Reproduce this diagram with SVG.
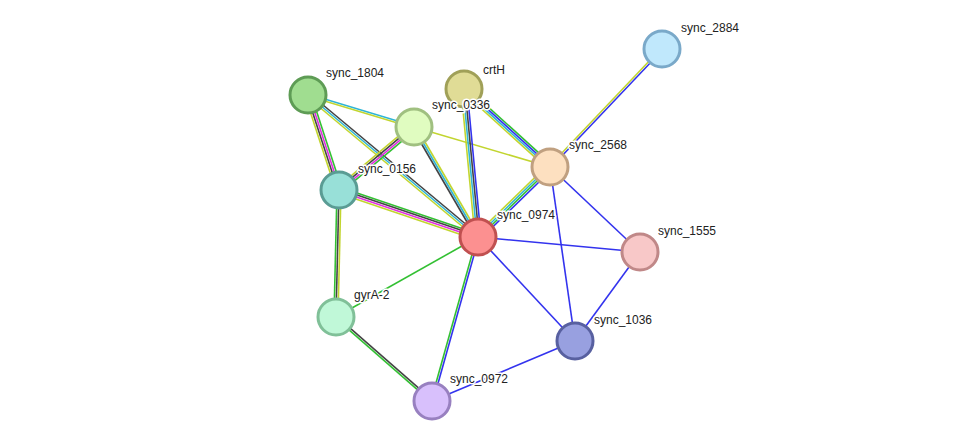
<svg xmlns="http://www.w3.org/2000/svg" width="975" height="446" viewBox="0 0 975 446">
<style>
.e line{stroke-width:1.6;fill:none}
.G{stroke:#33c033}.Y{stroke:#c2d52f}.K{stroke:#444}.C{stroke:#2fb5d5}.M{stroke:#e030e0}.B{stroke:#3333ee}
.n circle{stroke-width:3}
.n text{font-family:"Liberation Sans",Arial,sans-serif;font-size:12px;fill:#222;stroke:#fff;stroke-width:3;paint-order:stroke;stroke-linejoin:round}
</style>
<rect width="975" height="446" fill="#fff"/>
<g id="connectors" class="e">
<line class="C" x1="308" y1="94" x2="414" y2="126"/><line class="Y" x1="308" y1="96" x2="414" y2="128"/>
<line class="G" x1="310.9" y1="94.1" x2="341.9" y2="189.1"/><line class="M" x1="309" y1="94.7" x2="340" y2="189.7"/><line class="K" x1="307" y1="95.3" x2="338" y2="190.3"/><line class="Y" x1="305.1" y1="95.9" x2="336.1" y2="190.9"/>
<line class="K" x1="309.3" y1="93.5" x2="479.3" y2="235.5"/><line class="C" x1="308" y1="95" x2="478" y2="237"/><line class="Y" x1="306.7" y1="96.5" x2="476.7" y2="238.5"/>
<line class="G" x1="415.9" y1="129.3" x2="340.9" y2="192.3"/><line class="M" x1="414.6" y1="127.8" x2="339.6" y2="190.8"/><line class="K" x1="413.4" y1="126.2" x2="338.4" y2="189.2"/><line class="Y" x1="412.1" y1="124.7" x2="337.1" y2="187.7"/>
<line class="Y" x1="415.7" y1="126" x2="479.7" y2="236"/><line class="C" x1="414" y1="127" x2="478" y2="237"/><line class="K" x1="412.3" y1="128" x2="476.3" y2="238"/>
<line class="Y" x1="414" y1="127" x2="550" y2="167"/>
<line class="B" x1="467" y1="89" x2="481" y2="237"/><line class="K" x1="465" y1="89" x2="479" y2="237"/><line class="C" x1="463" y1="89" x2="477" y2="237"/><line class="Y" x1="461" y1="89" x2="475" y2="237"/>
<line class="G" x1="466" y1="86.8" x2="552" y2="164.8"/><line class="B" x1="464.7" y1="88.3" x2="550.7" y2="166.3"/><line class="C" x1="463.3" y1="89.7" x2="549.3" y2="167.7"/><line class="Y" x1="462" y1="91.2" x2="548" y2="169.2"/>
<line class="B" x1="552.1" y1="169.2" x2="480.1" y2="239.2"/><line class="G" x1="550.7" y1="167.7" x2="478.7" y2="237.7"/><line class="C" x1="549.3" y1="166.3" x2="477.3" y2="236.3"/><line class="Y" x1="547.9" y1="164.8" x2="475.9" y2="234.8"/>
<line class="B" x1="662.7" y1="49.7" x2="550.7" y2="167.7"/><line class="Y" x1="661.3" y1="48.3" x2="549.3" y2="166.3"/>
<line class="G" x1="340" y1="187.2" x2="479" y2="234.2"/><line class="K" x1="339.3" y1="189.1" x2="478.3" y2="236.1"/><line class="M" x1="338.7" y1="191" x2="477.7" y2="238"/><line class="Y" x1="338" y1="192.9" x2="477" y2="239.9"/>
<line class="G" x1="337" y1="190" x2="334" y2="317"/><line class="K" x1="339" y1="190" x2="336" y2="317"/><line class="Y" x1="341" y1="190" x2="338" y2="317"/>
<line class="G" x1="336" y1="317" x2="478" y2="237"/>
<line class="K" x1="336.7" y1="316.3" x2="432.7" y2="400.3"/><line class="G" x1="335.3" y1="317.8" x2="431.3" y2="401.8"/>
<line class="B" x1="479" y1="237.3" x2="433" y2="401.3"/><line class="G" x1="477" y1="236.7" x2="431" y2="400.7"/>
<line class="B" x1="478" y1="237" x2="640" y2="252"/>
<line class="B" x1="478" y1="237" x2="575" y2="341"/>
<line class="B" x1="550" y1="167" x2="640" y2="252"/>
<line class="B" x1="550" y1="167" x2="575" y2="341"/>
<line class="B" x1="575" y1="341" x2="640" y2="252"/>
<line class="B" x1="575" y1="341" x2="432" y2="401"/>
</g>
<g id="sync_2884" class="n"><circle cx="662" cy="49" r="18" fill="#c0e8fc" stroke="#7aa9c9"/><text x="681" y="32">sync_2884</text></g>
<g id="sync_1804" class="n"><circle cx="308" cy="95" r="18" fill="#a0dd90" stroke="#5e9c55"/><text x="326" y="77">sync_1804</text></g>
<g id="crtH" class="n"><circle cx="464" cy="89" r="18" fill="#e0dc96" stroke="#a0a058"/><text x="483" y="74">crtH</text></g>
<g id="sync_0336" class="n"><circle cx="414" cy="127" r="18" fill="#e0fcc0" stroke="#a0c080"/><text x="432" y="109">sync_0336</text></g>
<g id="sync_2568" class="n"><circle cx="550" cy="167" r="18" fill="#fde0c0" stroke="#c0a080"/><text x="569" y="149">sync_2568</text></g>
<g id="sync_0156" class="n"><circle cx="339" cy="190" r="18" fill="#98e0d8" stroke="#5a9c94"/><text x="358" y="173">sync_0156</text></g>
<g id="sync_0974" class="n"><circle cx="478" cy="237" r="18" fill="#fc9090" stroke="#c05050"/><text x="497" y="219">sync_0974</text></g>
<g id="sync_1555" class="n"><circle cx="640" cy="252" r="18" fill="#f8c8c8" stroke="#c08888"/><text x="658" y="235">sync_1555</text></g>
<g id="gyrA-2" class="n"><circle cx="336" cy="317" r="18" fill="#c0f8d8" stroke="#80c098"/><text x="354" y="299">gyrA-2</text></g>
<g id="sync_1036" class="n"><circle cx="575" cy="341" r="18" fill="#98a0e0" stroke="#5860a0"/><text x="594" y="324">sync_1036</text></g>
<g id="sync_0972" class="n"><circle cx="432" cy="401" r="18" fill="#d8c0fc" stroke="#9880c0"/><text x="450" y="383">sync_0972</text></g>
</svg>
